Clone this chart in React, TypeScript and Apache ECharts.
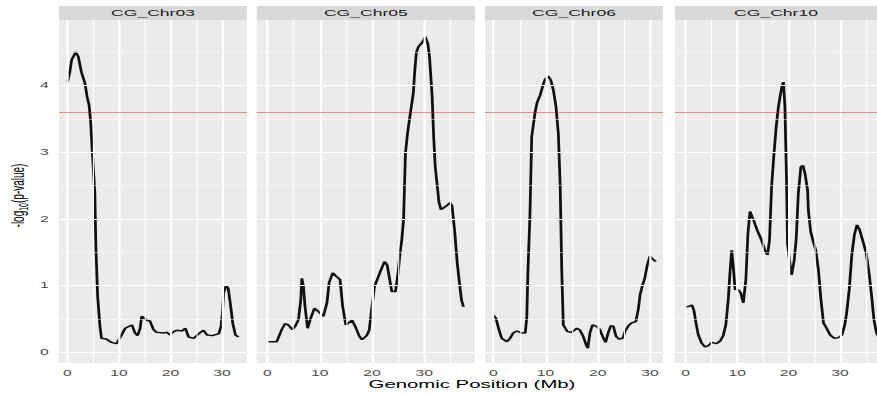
import React, { useEffect, useRef } from "react";
import * as echarts from "echarts";

// The reference image is stretched horizontally; the chart is drawn narrow and scaled.
const INNER_W = 474;
const H = 394;
const S = 877 / INNER_W;

const panelNames = ["CG_Chr03", "CG_Chr05", "CG_Chr06", "CG_Chr10"];

const pos03 = [0, 0.45, 0.8, 1.6, 2.1, 2.7, 3.4, 3.8, 4.2, 4.5, 4.8, 5.3, 5.5, 5.85, 6.3, 6.6, 7.5, 8.5, 9.5, 10.5, 11.2, 12.5, 13.1, 13.6, 14.1, 14.4, 15.4, 16.0, 16.7, 17.3, 18.6, 19.3, 19.9, 20.6, 21.2, 22.2, 22.9, 23.5, 24.5, 25.5, 26.4, 27.1, 28.1, 29.4, 29.8, 30.1, 30.3, 30.8, 31.2, 31.6, 32.1, 32.6, 33.2];
const val03 = [4.05, 4.2, 4.38, 4.5, 4.43, 4.2, 4.03, 3.83, 3.7, 3.45, 3.02, 2.4, 1.6, 0.84, 0.39, 0.21, 0.2, 0.15, 0.13, 0.26, 0.36, 0.41, 0.29, 0.25, 0.36, 0.54, 0.48, 0.47, 0.34, 0.3, 0.29, 0.3, 0.26, 0.31, 0.33, 0.32, 0.36, 0.23, 0.21, 0.28, 0.33, 0.26, 0.25, 0.28, 0.39, 0.61, 0.89, 1.0, 0.96, 0.74, 0.43, 0.26, 0.23];

const pos05 = [0, 1.8, 2.75, 3.4, 4.0, 4.8, 5.4, 5.95, 6.4, 6.6, 6.9, 7.2, 7.7, 8.2, 9.0, 9.8, 10.7, 11.4, 11.8, 12.5, 13.3, 13.9, 14.4, 15.0, 16.2, 16.8, 17.6, 18.1, 19.0, 19.5, 20.0, 20.5, 21.0, 21.6, 22.4, 22.9, 23.4, 23.8, 24.5, 25.0, 25.4, 25.7, 26.05, 26.4, 26.8, 27.3, 27.9, 28.2, 28.5, 28.9, 29.6, 30.2, 30.7, 31.0, 31.5, 31.8, 32.1, 32.6, 32.8, 33.2, 34.0, 34.9, 35.3, 35.8, 36.3, 36.7, 37.1, 37.5];
const val05 = [0.16, 0.16, 0.34, 0.43, 0.41, 0.34, 0.4, 0.49, 0.79, 1.11, 0.99, 0.69, 0.36, 0.49, 0.66, 0.61, 0.54, 0.74, 1.04, 1.19, 1.13, 1.09, 0.69, 0.41, 0.48, 0.39, 0.24, 0.19, 0.25, 0.34, 0.69, 0.99, 1.09, 1.21, 1.36, 1.31, 1.09, 0.91, 0.91, 1.19, 1.51, 1.68, 2.0, 2.98, 3.28, 3.56, 3.88, 4.23, 4.5, 4.58, 4.64, 4.73, 4.62, 4.43, 3.85, 3.23, 2.78, 2.41, 2.25, 2.14, 2.18, 2.24, 2.2, 1.83, 1.34, 1.06, 0.79, 0.68];

const pos06 = [0, 0.5, 1.0, 1.6, 2.6, 3.2, 3.8, 4.5, 5.4, 6.1, 6.4, 6.6, 7.0, 7.35, 7.7, 8.0, 8.4, 8.95, 9.5, 9.9, 10.5, 11.0, 11.5, 12.0, 12.45, 12.8, 13.1, 13.4, 14.2, 15.0, 16.0, 16.6, 17.2, 17.8, 18.1, 18.5, 19.0, 19.8, 20.4, 21.1, 21.5, 22.0, 22.5, 23.0, 23.5, 24.1, 24.8, 25.2, 25.9, 26.5, 27.3, 27.8, 28.1, 28.6, 29.0, 29.5, 30.0, 30.5, 31.1];
const val06 = [0.56, 0.51, 0.36, 0.21, 0.16, 0.21, 0.29, 0.32, 0.29, 0.29, 0.51, 1.16, 2.03, 3.23, 3.43, 3.6, 3.75, 3.85, 4.0, 4.09, 4.14, 4.08, 3.93, 3.68, 3.28, 2.51, 1.24, 0.41, 0.31, 0.3, 0.36, 0.33, 0.24, 0.11, 0.06, 0.29, 0.41, 0.39, 0.34, 0.21, 0.15, 0.29, 0.4, 0.39, 0.24, 0.2, 0.21, 0.31, 0.4, 0.44, 0.46, 0.66, 0.86, 1.01, 1.11, 1.31, 1.44, 1.4, 1.36];

const pos10 = [0, 0.7, 1.2, 1.6, 2.0, 2.45, 3.1, 3.75, 4.4, 5.1, 6.0, 6.7, 7.3, 7.8, 8.3, 8.6, 8.95, 9.3, 9.6, 10.2, 10.7, 11.2, 11.7, 12.1, 12.5, 13.2, 13.9, 14.6, 15.4, 15.9, 16.3, 16.7, 17.1, 17.6, 18.0, 18.3, 18.7, 19.0, 19.3, 19.6, 19.8, 20.3, 20.6, 21.1, 21.5, 21.9, 22.4, 22.8, 23.2, 23.7, 23.85, 24.3, 24.8, 25.3, 25.8, 26.3, 26.8, 27.4, 28.1, 28.9, 29.7, 30.4, 30.9, 31.3, 31.8, 32.3, 32.8, 33.3, 33.8, 34.4, 35.1, 35.7, 36.2, 36.6, 37.1, 37.6];
const val10 = [0.68, 0.69, 0.71, 0.63, 0.44, 0.26, 0.14, 0.08, 0.1, 0.15, 0.13, 0.17, 0.25, 0.41, 0.81, 1.19, 1.53, 1.24, 0.94, 0.94, 0.89, 0.74, 1.09, 1.78, 2.11, 1.98, 1.83, 1.71, 1.53, 1.46, 1.68, 2.48, 2.91, 3.38, 3.66, 3.81, 3.98, 4.05, 3.68, 2.61, 1.63, 1.31, 1.16, 1.38, 1.71, 2.38, 2.78, 2.8, 2.68, 2.43, 2.13, 1.81, 1.66, 1.53, 1.24, 0.79, 0.44, 0.36, 0.26, 0.21, 0.22, 0.26, 0.4, 0.59, 0.94, 1.46, 1.76, 1.91, 1.84, 1.68, 1.49, 1.16, 0.81, 0.49, 0.29, 0.22];

const positions = [pos03, pos05, pos06, pos10];
const values = [val03, val05, val06, val10];

const yTicks = [0, 1, 2, 3, 4];
const yMinor = [0.5, 1.5, 2.5, 3.5, 4.5];
const xTicks = [0, 10, 20, 30];
const xMinor = [5, 15, 25, 35];
const threshold = 3.6;
const yRange = [-0.16, 4.98];
const xRanges = [[-1.65, 34.85], [-2.03, 39.7], [-1.6, 32.5], [-2.08, 37.2]];

// panel boxes in final (stretched) pixels
const panelX = [[59, 247], [256.7, 475], [485, 663], [675, 877]];
const PANEL_TOP = 20;
const PANEL_BOTTOM = 363;
const STRIP_TOP = 6;

const FONT = "'Liberation Sans', Arial, sans-serif";

export default function App() {
  const ref = useRef<HTMLDivElement>(null);

  useEffect(() => {
    if (!ref.current) return;
    const chart = echarts.init(ref.current, undefined, { renderer: "svg" });

    const grids = panelX.map(([l, r]) => ({
      left: l / S,
      width: (r - l) / S,
      top: PANEL_TOP,
      height: PANEL_BOTTOM - PANEL_TOP,
      show: true,
      backgroundColor: "#EBEBEB",
      borderWidth: 0,
      containLabel: false,
    }));

    const xAxes = xRanges.map((rg, i) => ({
      type: "value",
      gridIndex: i,
      min: rg[0],
      max: rg[1],
      axisLine: { show: false },
      splitLine: { show: false },
      axisTick: {
        show: true,
        customValues: xTicks,
        length: 2.5,
        lineStyle: { color: "#333333", width: 0.6 },
      },
      axisLabel: {
        show: true,
        customValues: xTicks,
        fontSize: 8.5,
        color: "#4D4D4D",
        margin: 5.5,
        fontFamily: FONT,
      },
    }));

    const yAxes = panelX.map((_, i) => ({
      type: "value",
      gridIndex: i,
      min: yRange[0],
      max: yRange[1],
      axisLine: { show: false },
      splitLine: { show: false },
      axisTick: {
        show: i === 0,
        customValues: yTicks,
        length: 2.7,
        lineStyle: { color: "#333333", width: 1 },
      },
      axisLabel: {
        show: i === 0,
        customValues: yTicks,
        fontSize: 8.5,
        color: "#4D4D4D",
        margin: 5.5,
        fontFamily: FONT,
      },
    }));

    const series: any[] = [];
    positions.forEach((pos, i) => {
      const [xmin, xmax] = xRanges[i];
      const mlData: any[] = [];
      yMinor.forEach((v) => mlData.push({ yAxis: v, lineStyle: { color: "#FFFFFF", width: 0.6 } }));
      yTicks.forEach((v) => mlData.push({ yAxis: v, lineStyle: { color: "#FFFFFF", width: 1.2 } }));
      xMinor
        .filter((v) => v > xmin && v < xmax)
        .forEach((v) => mlData.push({ xAxis: v, lineStyle: { color: "#FFFFFF", width: 0.6 } }));
      xTicks
        .filter((v) => v > xmin && v < xmax)
        .forEach((v) => mlData.push({ xAxis: v, lineStyle: { color: "#FFFFFF", width: 1.2 } }));
      mlData.push({ yAxis: threshold, lineStyle: { color: "rgba(255,0,0,0.42)", width: 1.1 } });

      series.push({
        type: "line",
        xAxisIndex: i,
        yAxisIndex: i,
        data: [],
        silent: true,
        z: 1,
        markLine: {
          silent: true,
          symbol: ["none", "none"],
          label: { show: false },
          lineStyle: { type: "solid" },
          emphasis: { disabled: true },
          data: mlData,
        },
      });
      series.push({
        type: "line",
        name: panelNames[i],
        xAxisIndex: i,
        yAxisIndex: i,
        data: pos.map((p, k) => [p, values[i][k]]),
        showSymbol: false,
        symbol: "none",
        z: 3,
        lineStyle: { color: "#111111", width: 1.5 },
        emphasis: { disabled: true },
      });
    });

    const graphics: any[] = [];
    panelX.forEach(([l, r], i) => {
      graphics.push({
        type: "rect",
        shape: { x: l / S, y: STRIP_TOP, width: (r - l) / S, height: PANEL_TOP - STRIP_TOP },
        style: { fill: "#D9D9D9" },
        silent: true,
      });
      graphics.push({
        type: "text",
        x: (l + r) / 2 / S,
        y: (STRIP_TOP + PANEL_TOP) / 2,
        style: {
          text: panelNames[i],
          fill: "#1A1A1A",
          fontSize: 9.5,
          fontFamily: FONT,
          align: "center",
          verticalAlign: "middle",
        },
        silent: true,
      });
    });
    graphics.push({
      type: "text",
      x: 9.5,
      y: (PANEL_TOP + PANEL_BOTTOM) / 2 + 4,
      rotation: Math.PI / 2,
      style: {
        text: "-log{sub|10}(p-value)",
        fill: "#000000",
        fontSize: 10,
        lineHeight: 14,
        fontFamily: FONT,
        align: "center",
        verticalAlign: "middle",
        rich: {
          sub: { fontSize: 7, lineHeight: 8, verticalAlign: "bottom", fill: "#000000", fontFamily: FONT },
        },
      },
      silent: true,
    });
    graphics.push({
      type: "text",
      x: 472 / S,
      y: 384,
      style: {
        text: "Genomic Position (Mb)",
        fill: "#000000",
        fontSize: 11,
        fontFamily: FONT,
        align: "center",
        verticalAlign: "middle",
      },
      silent: true,
    });

    chart.setOption({
      animation: false,
      textStyle: { fontFamily: FONT },
      grid: grids,
      xAxis: xAxes,
      yAxis: yAxes,
      series,
      graphic: graphics,
    });

    return () => chart.dispose();
  }, []);

  return (
    <div
      style={{
        position: "fixed",
        left: 0,
        top: 0,
        width: 877,
        height: H,
        overflow: "hidden",
        background: "#FFFFFF",
      }}
    >
      <div
        ref={ref}
        style={{
          width: INNER_W,
          height: H,
          transform: `scaleX(${S})`,
          transformOrigin: "0 0",
        }}
      />
    </div>
  );
}
